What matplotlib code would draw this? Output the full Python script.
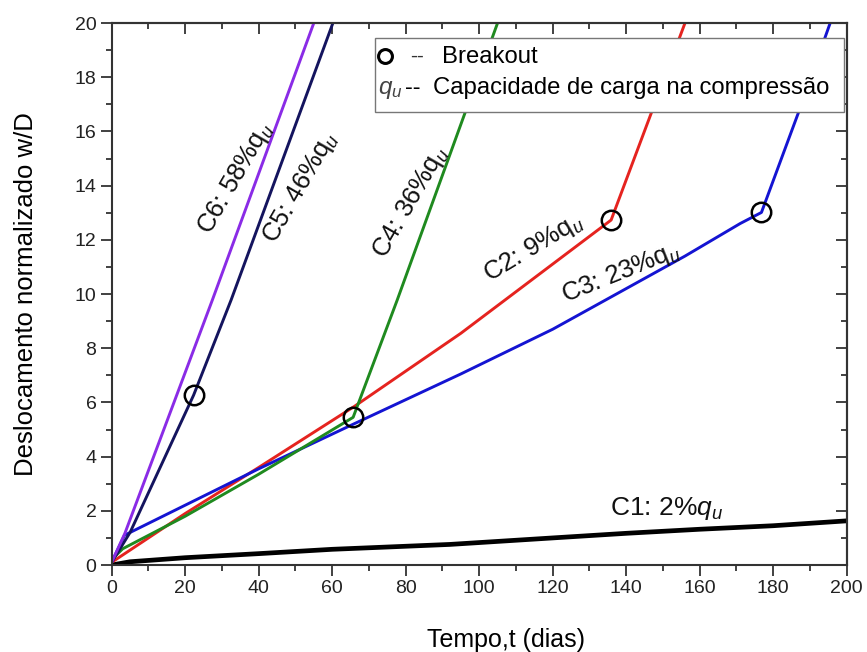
import matplotlib
matplotlib.use("Agg")
import matplotlib.pyplot as plt
from matplotlib.patches import Rectangle
from matplotlib.ticker import MultipleLocator

plt.rcParams['font.family'] = ['Liberation Sans', 'DejaVu Sans']
plt.rcParams['mathtext.fontset'] = 'custom'
plt.rcParams['mathtext.rm'] = 'Liberation Sans'
plt.rcParams['mathtext.it'] = 'Liberation Sans:italic'

# curves: tempo (dias) -> w/D
c1_t = [0, 5, 20, 40, 60, 92, 120, 140, 160, 180, 200]
c1_w = [0, 0.12, 0.27, 0.42, 0.58, 0.76, 1.0, 1.17, 1.32, 1.45, 1.63]

c2_t = [0, 20, 40, 66, 95, 135.9, 146.8, 156]
c2_w = [0.1, 1.9, 3.6, 5.85, 8.55, 12.73, 16.67, 20]

c3_t = [0, 3.5, 40, 65, 95, 120, 156, 171, 176.8, 186.8, 195.5]
c3_w = [0.1, 1.1, 3.55, 5.15, 7.05, 8.7, 11.4, 12.6, 13.01, 16.67, 20]

c4_t = [0, 3, 20, 40, 65.7, 77.7, 105]
c4_w = [0.2, 0.6, 1.8, 3.35, 5.45, 9.78, 20]

c5_t = [0, 5, 22.3, 32.5, 60.2]
c5_w = [0.1, 1.2, 6.27, 9.78, 20]

c6_t = [0, 3.6, 17.7, 27.4, 55]
c6_w = [0.1, 1.17, 6.27, 9.78, 20]

breakout_t = [22.3, 65.7, 135.9, 176.8]
breakout_w = [6.27, 5.45, 12.73, 13.01]

labels = [r"C1: 2%$\mathit{q}_{\mathit{u}}$", r"C2: 9%$\mathrm{q}_{\mathit{u}}$",
          r"C3: 23%$\mathrm{q}_{\mathit{u}}$", r"C4: 36%$\mathrm{q}_{\mathit{u}}$",
          r"C5: 46%$\mathrm{q}_{\mathit{u}}$", r"C6: 58%$\mathrm{q}_{\mathit{u}}$"]
label_t = [150.9, 114.9, 138.6, 81.4, 51.4, 33.6]
label_w = [2.1, 11.7, 10.77, 13.39, 13.95, 14.28]
label_rot = [0, 31, 22, 60, 60, 60]

fig = plt.figure(figsize=(8.67, 6.52), dpi=100)
ax = fig.add_axes([0.1288, 0.1334, 0.8478, 0.8313])

ax.plot(c1_t, c1_w, color='black', lw=3.4, solid_capstyle='butt')
ax.plot(c2_t, c2_w, color='#e5231f', lw=2.1)
ax.plot(c3_t, c3_w, color='#1414d2', lw=2.1)
ax.plot(c4_t, c4_w, color='#1f8a1f', lw=2.1)
ax.plot(c5_t, c5_w, color='#14145e', lw=2.1)
ax.plot(c6_t, c6_w, color='#8a2be6', lw=2.1)
ax.plot(breakout_t, breakout_w, 'o', ms=14, mfc='none', mec='black', mew=1.8)

for txt, t, w, r in zip(labels, label_t, label_w, label_rot):
    size = 19 if r == 0 else 18.5
    ax.text(t, w, txt, rotation=r, rotation_mode='anchor', ha='center',
            va='center', fontsize=size, color='#111111')

ax.set_xlim(0, 200)
ax.set_ylim(0, 20)
ax.xaxis.set_major_locator(MultipleLocator(20))
ax.xaxis.set_minor_locator(MultipleLocator(10))
ax.yaxis.set_major_locator(MultipleLocator(2))
ax.yaxis.set_minor_locator(MultipleLocator(1))
ax.tick_params(which='major', direction='out', length=8, width=1.3,
               labelsize=14, pad=3, colors='#333333', labelcolor='#222222')
ax.tick_params(which='minor', direction='out', length=4.5, width=1.3, colors='#333333')

# inward ticks on top and right
top = ax.secondary_xaxis('top')
top.xaxis.set_major_locator(MultipleLocator(20))
top.xaxis.set_minor_locator(MultipleLocator(10))
top.tick_params(which='major', direction='in', length=8, width=1.3, labeltop=False, colors='#333333')
top.tick_params(which='minor', direction='in', length=4.5, width=1.3, colors='#333333')
right = ax.secondary_yaxis('right')
right.yaxis.set_major_locator(MultipleLocator(2))
right.yaxis.set_minor_locator(MultipleLocator(1))
right.tick_params(which='major', direction='in', length=8, width=1.3, labelright=False, colors='#333333')
right.tick_params(which='minor', direction='in', length=4.5, width=1.3, colors='#333333')

for s in list(ax.spines.values()) + [top.spines['top'], right.spines['right']]:
    s.set_linewidth(1.5)
    s.set_color('#333333')

ax.set_xlabel('Tempo,t (dias)', fontsize=18, labelpad=22)
ax.xaxis.label.set_x(0.536)
ax.set_ylabel('Deslocamento normalizado w/D', fontsize=18.5, labelpad=26)

# legend box
ax.add_patch(Rectangle((0.358, 0.836), 0.638, 0.136, transform=ax.transAxes,
                       facecolor='white', edgecolor='#777777', lw=1.0, zorder=5))
ax.plot([0.372], [0.939], 'o', ms=10, mfc='none', mec='black', mew=2.2,
        transform=ax.transAxes, zorder=6, clip_on=False)
ax.text(0.406, 0.939, '--', transform=ax.transAxes, fontsize=15,
        va='center', ha='left', zorder=6, color='#333333')
ax.text(0.449, 0.937, 'Breakout', transform=ax.transAxes, fontsize=17.2,
        va='center', ha='left', zorder=6)
ax.text(0.362, 0.876, r'$\mathit{q}_{\mathit{u}}$', transform=ax.transAxes,
        fontsize=17.5, va='center', ha='left', color='#444444', zorder=6)
ax.text(0.399, 0.881, '--', transform=ax.transAxes, fontsize=17,
        va='center', ha='left', zorder=6)
ax.text(0.437, 0.8795, 'Capacidade de carga na compressão', transform=ax.transAxes,
        fontsize=17.2, va='center', ha='left', zorder=6)

fig.savefig('out.png', dpi=100)
